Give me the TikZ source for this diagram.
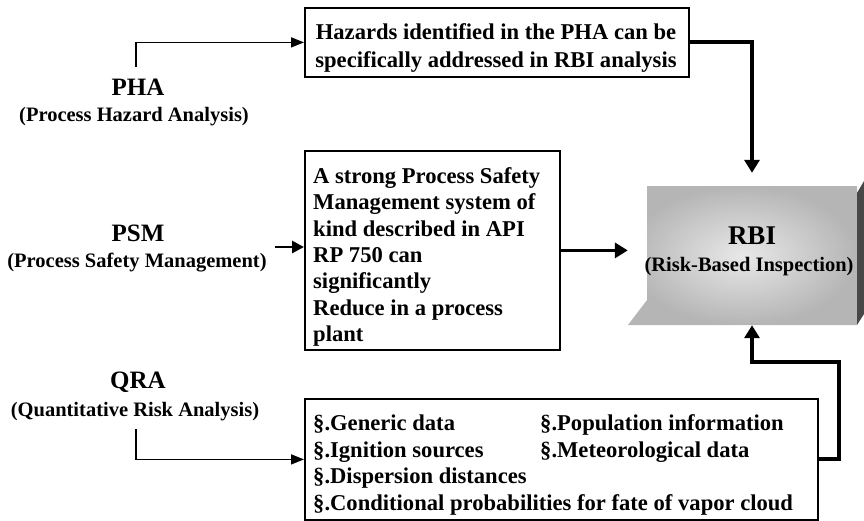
\documentclass[tikz,border=0pt]{standalone}
\usepackage{fontspec}
\setmainfont{Liberation Serif}
\usetikzlibrary{arrows.meta}
\begin{document}
\begin{tikzpicture}[x=1pt,y=-1pt,
  frame/.style={draw,line width=1.8pt,anchor=north west,inner sep=0pt},
  boxtext/.style={inner sep=0pt,font=\fontsize{22.6}{26.4}\selectfont\bfseries},
  lbl/.style={font=\fontsize{25}{28}\selectfont\bfseries,inner sep=0pt},
  sublbl/.style={font=\fontsize{20.5}{24}\selectfont\bfseries,inner sep=0pt},
  feed/.style={line width=1.6pt,-{Triangle[length=13pt,width=10pt]}},
  flow/.style={line width=4pt,-{Triangle[length=13pt,width=15pt]}}]
\useasboundingbox (0,0) rectangle (864,520);

% RBI block: shaded face, bevelled foot and dark side face
\shade[inner color=gray!18,outer color=gray!58]
  (647,186) -- (857,186) -- (857,325) -- (628,325) -- (647,300) -- cycle;
\fill[black!72] (857,193) -- (864,181) -- (864,314) -- (857,325) -- cycle;
\node[minimum width=210pt,minimum height=139pt,inner sep=0pt] (rbi) at (752,255.5) {};
\node[font=\fontsize{27}{30}\selectfont\bfseries,inner sep=0pt] (rbit) at (752,236) {RBI};
\node[sublbl] (rbis) at (749,267) {(Risk-Based Inspection)};

% Source labels
\node[lbl] (pha) at (138,87) {PHA};
\node[sublbl] (phas) at (134,117) {(Process Hazard Analysis)};
\node[lbl] (psm) at (138,233) {PSM};
\node[sublbl] (psms) at (137,263) {(Process Safety Management)};
\node[lbl] (qra) at (138,382) {QRA};
\node[sublbl] (qras) at (135,412) {(Quantitative Risk Analysis)};

% Content boxes and their texts
\node[frame,minimum width=384pt,minimum height=69pt] (tbox) at (304,7) {};
\node[boxtext,align=center,font=\fontsize{22.6}{28}\selectfont\bfseries] (ttext) at (496,48)
  {Hazards identified in the PHA can be\\specifically addressed in RBI analysis};

\node[frame,minimum width=255pt,minimum height=199pt] (pbox) at (304,150) {};
\node[boxtext,align=left,anchor=west] (ptext) at (313,257)
  {A strong Process Safety\\Management system of\\kind described in API\\RP 750 can\\significantly\\Reduce in a process\\plant};

\node[frame,minimum width=513pt,minimum height=121pt] (qbox) at (304,398) {};
\node[boxtext,align=left,anchor=west,font=\fontsize{22.6}{26.7}\selectfont\bfseries] (qtext) at (313,465)
  {\makebox[227pt][l]{§.Generic data}§.Population information\\
   \makebox[227pt][l]{§.Ignition sources}§.Meteorological data\\
   §.Dispersion distances\\
   §.Conditional probabilities for fate of vapor cloud};

% Connectors
\coordinate (phastart) at (136,67);
\coordinate (psmstart) at (275,247);
\coordinate (qrastart) at (136,429);
\coordinate (qturn) at (839,362);
\draw[feed] (phastart) |- (tbox.west);
\draw[feed,line width=2.8pt,-{Triangle[length=12pt,width=12pt]}] (psmstart) -- (psmstart -| pbox.west);
\draw[feed] (qrastart) |- (qbox.west);
\draw[flow,shorten >=13pt] (tbox.east) -| (rbi.north);
\draw[flow,line width=3.4pt,shorten >=19pt] (pbox.east) -- (pbox.east -| rbi.west);
\draw[flow] (qbox.east) -| (qturn) -| (rbi.south);
\end{tikzpicture}
\end{document}
